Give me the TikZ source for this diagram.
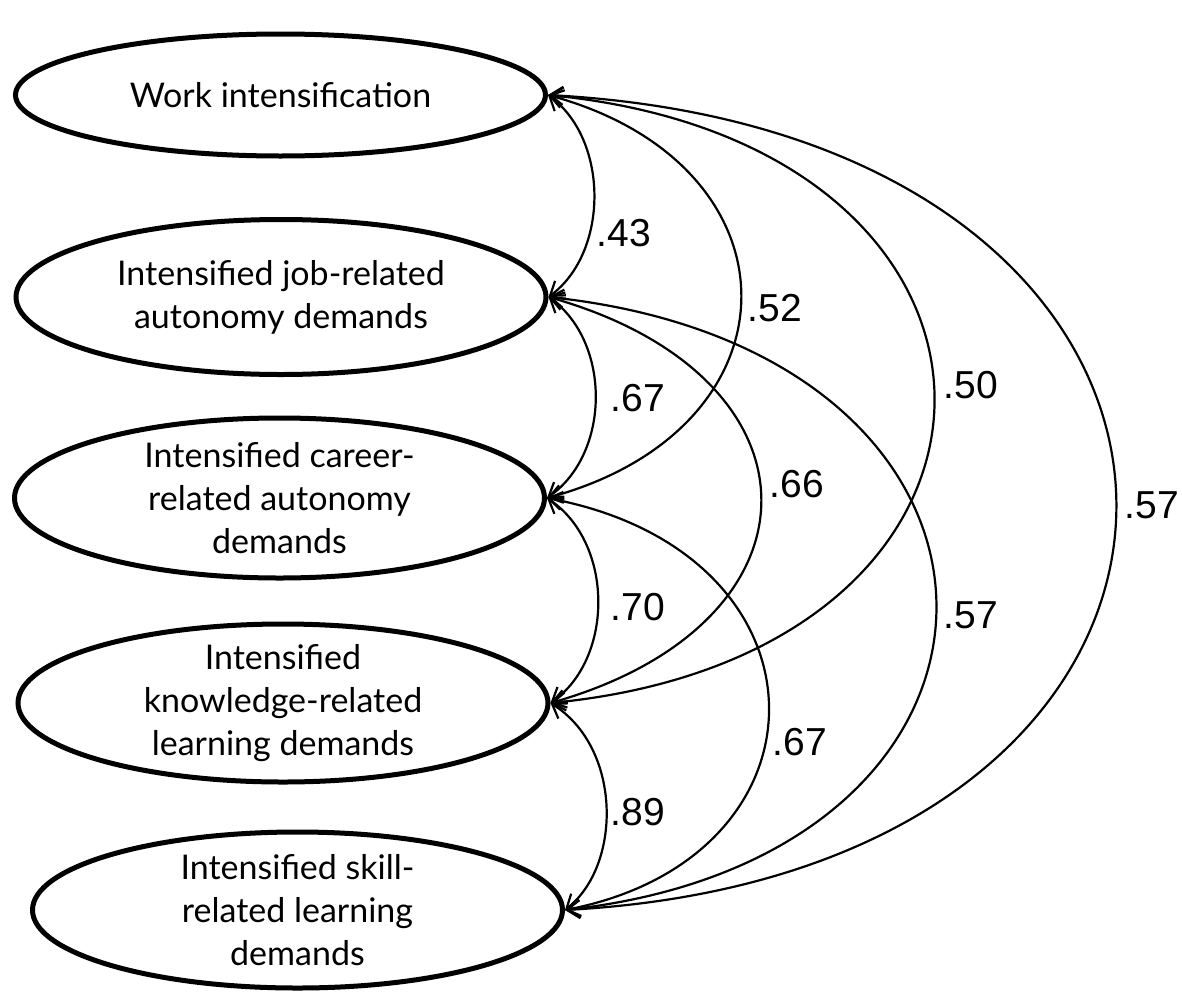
\documentclass[tikz,border=0pt]{standalone}
\usepackage{fontspec}
\setmainfont{Lato}
\newfontfamily\numfont{Liberation Sans}
\usetikzlibrary{shapes.geometric,arrows.meta}
\begin{document}
\begin{tikzpicture}[x=1pt,y=-1pt,
  ell/.style={draw, ellipse, line width=5pt, minimum width=530pt, inner sep=0pt},
  txt/.style={align=center, font=\fontsize{34}{43}\selectfont, inner sep=0pt},
  num/.style={font=\numfont\fontsize{39}{44}\selectfont, inner sep=0pt},
  conn/.style={line width=2.2pt, {Straight Barb[length=13pt,width=18pt]}-{Straight Barb[length=13pt,width=18pt]}}]
\useasboundingbox (0,0) rectangle (1182,993);

\node[ell, minimum height=122pt] (e1) at (280.5,95) {};
\node[ell, minimum height=155pt] (e2) at (281,297) {};
\node[ell, minimum height=160pt] (e3) at (279.5,498) {};
\node[ell, minimum height=158pt] (e4) at (283,703) {};
\node[ell, minimum height=156pt] (e5) at (297.5,910) {};

\node[txt] (t1) at (e1) {Work intensification};
\node[txt] (t2) at (e2) {Intensified job-related\\autonomy demands};
\node[txt] (t3) at (e3) {Intensified career-\\related autonomy\\demands};
\node[txt] (t4) at (e4) {Intensified\\knowledge-related\\learning demands};
\node[txt] (t5) at (e5) {Intensified skill-\\related learning\\demands};

\draw[conn] (e1.east) .. controls (609,140) and (609,252) .. (e2.east);
\draw[conn] (e1.east) .. controls (805,165) and (805,428) .. (e3.east);
\draw[conn] (e1.east) .. controls (1062,145) and (1062,653) .. (e4.east);
\draw[conn] (e1.east) .. controls (1302,135) and (1302,870) .. (e5.east);
\draw[conn] (e2.east) .. controls (611,342) and (611,453) .. (e3.east);
\draw[conn] (e2.east) .. controls (831,377) and (831,623) .. (e4.east);
\draw[conn] (e2.east) .. controls (1062,352) and (1062,855) .. (e5.east);
\draw[conn] (e3.east) .. controls (614,543) and (614,658) .. (e4.east);
\draw[conn] (e3.east) .. controls (839,553) and (839,857) .. (e5.east);
\draw[conn] (e4.east) .. controls (622,748) and (622,865) .. (e5.east);

\node[num] (n1) at (624,233) {.43};
\node[num] (n2) at (775,308) {.52};
\node[num] (n3) at (638,398) {.67};
\node[num] (n4) at (797,484) {.66};
\node[num] (n5) at (971,385) {.50};
\node[num] (n6) at (1152,505) {.57};
\node[num] (n7) at (638,607) {.70};
\node[num] (n8) at (971,615) {.57};
\node[num] (n9) at (800,742) {.67};
\node[num] (n10) at (638,812) {.89};
\end{tikzpicture}
\end{document}
